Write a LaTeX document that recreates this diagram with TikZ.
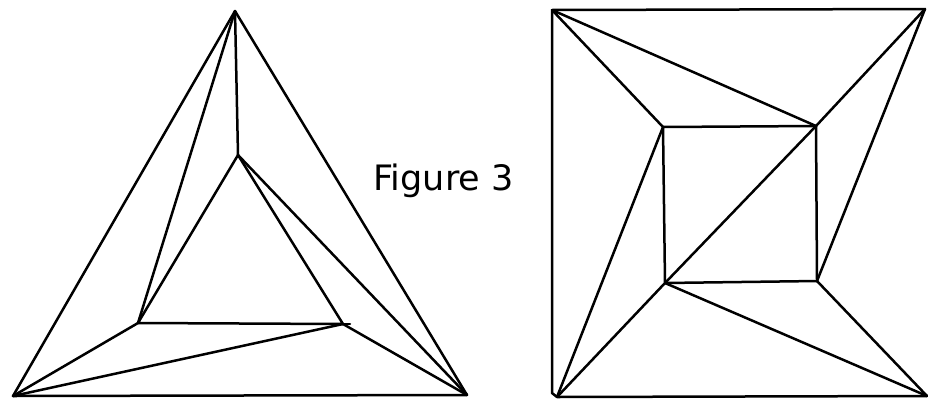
\documentclass[tikz,border=0pt]{standalone}
\usepackage{fontspec}
\setmainfont{DejaVu Sans}
\begin{document}
\begin{tikzpicture}[x=1pt,y=-1pt,line width=2.5pt,line join=round,line cap=round]
\useasboundingbox (0,0) rectangle (928,402);
% triangle
\coordinate (tT) at (235,11);
\coordinate (tL) at (13,396);
\coordinate (tR) at (467,395);
\coordinate (iT) at (238,155);
\coordinate (iL) at (138,323);
\coordinate (iR) at (343,324);
\draw (tT) -- (tL) -- (tR) -- cycle;
\draw (iT) -- (iL) -- (iR) -- cycle;
\draw (iR) -- (350,324);
\draw (tT) -- (iT);
\draw (tT) -- (iL);
\draw (iT) -- (tR);
\draw (tL) -- (iL);
\draw (tL) -- (iR);
\draw (iR) -- (tR);
% square
\coordinate (sTL) at (552,10);
\coordinate (sTR) at (925,9);
\coordinate (sBR) at (927,396);
\coordinate (sBL) at (557,397);
\coordinate (qTL) at (663,127);
\coordinate (qTR) at (816,126);
\coordinate (qBR) at (817,281);
\coordinate (qBL) at (665,283);
\draw (sBL) -- (552,393) -- (sTL) -- (sTR);
\draw (sBL) -- (sBR);
\draw (qTL) -- (qTR) -- (qBR) -- (qBL) -- cycle;
\draw (sTL) -- (qTL);
\draw (sTL) -- (qTR);
\draw (sTR) -- (qTR) -- (qBL);
\draw (sTR) -- (qBR);
\draw (qTL) -- (sBL);
\draw (qBL) -- (sBL);
\draw (qBL) -- (sBR);
\draw (qBR) -- (sBR);
\node[anchor=base west,font=\fontsize{35}{35}\selectfont,inner sep=0pt] (fig) at (372,190) {Figure 3};
\end{tikzpicture}
\end{document}
